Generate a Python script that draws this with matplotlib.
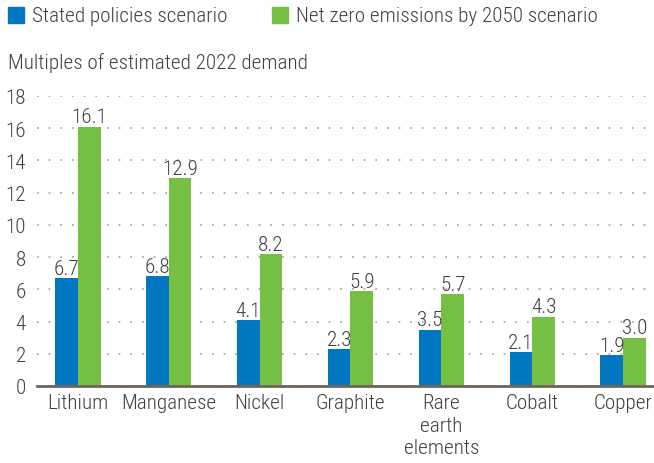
import matplotlib
matplotlib.use("Agg")
import matplotlib.pyplot as plt
from matplotlib.patches import Rectangle
import numpy as np

plt.rcParams['font.family'] = ['Roboto Condensed', 'Liberation Sans Narrow', 'Roboto', 'DejaVu Sans']
plt.rcParams['font.weight'] = 'light'

categories = ["Lithium", "Manganese", "Nickel", "Graphite", "Rare\nearth\nelements", "Cobalt", "Copper"]
stated_policies = [6.7, 6.8, 4.1, 2.3, 3.5, 2.1, 1.9]
net_zero = [16.1, 12.9, 8.2, 5.9, 5.7, 4.3, 3.0]
yticks = [0, 2, 4, 6, 8, 10, 12, 14, 16, 18]

BLUE = "#0077c0"
GREEN = "#74bf44"
TEXT = "#404040"
W, H = 654, 464

fig = plt.figure(figsize=(W / 100, H / 100), dpi=100)
ax = fig.add_axes([37 / W, (H - 387) / H, 1 - 37 / W, 290 / H])

x = np.arange(len(categories))
bw = 0.25
ax.bar(x - bw / 2, stated_policies, bw, color=BLUE)
ax.bar(x + bw / 2, net_zero, bw, color=GREEN)

fs = 15.2
for xi, v in zip(x - bw / 2, stated_policies):
    ax.text(xi, v + 0.02, f"{v:.1f}", ha="center", va="bottom", fontsize=fs, color=TEXT)
for xi, v in zip(x + bw / 2, net_zero):
    ax.text(xi, v + 0.02, f"{v:.1f}", ha="center", va="bottom", fontsize=fs, color=TEXT)

ax.set_xlim(-0.45, 6.34)
ax.set_ylim(0, 18)
ax.set_yticks(yticks)
ax.set_yticklabels([str(t) for t in yticks], fontsize=fs, color=TEXT)
ax.set_xticks(x)
ax.set_xticklabels(categories, fontsize=fs, color=TEXT, linespacing=1.25)
ax.tick_params(axis="both", length=0)
ax.tick_params(axis="y", pad=8)
ax.tick_params(axis="x", pad=5)

for s in ["top", "right", "left"]:
    ax.spines[s].set_visible(False)
ax.spines["bottom"].set_color("#6e645c")
ax.spines["bottom"].set_linewidth(2)

ax.yaxis.grid(True, linestyle=(0, (1, 6)), color="#a89f98", linewidth=1.2)
ax.set_axisbelow(True)

# legend row and axis caption
fig.patches.append(Rectangle((8 / W, 1 - 24 / H), 16 / W, 16 / H, transform=fig.transFigure, color=BLUE))
fig.text(32 / W, 1 - 17 / H, "Stated policies scenario", fontsize=fs, color=TEXT, va="center", ha="left")
fig.patches.append(Rectangle((272 / W, 1 - 24 / H), 16 / W, 16 / H, transform=fig.transFigure, color=GREEN))
fig.text(296 / W, 1 - 17 / H, "Net zero emissions by 2050 scenario", fontsize=fs, color=TEXT, va="center", ha="left")
fig.text(8 / W, 1 - 63 / H, "Multiples of estimated 2022 demand", fontsize=fs, color=TEXT, va="center", ha="left")

fig.savefig("out.png", dpi=100)
